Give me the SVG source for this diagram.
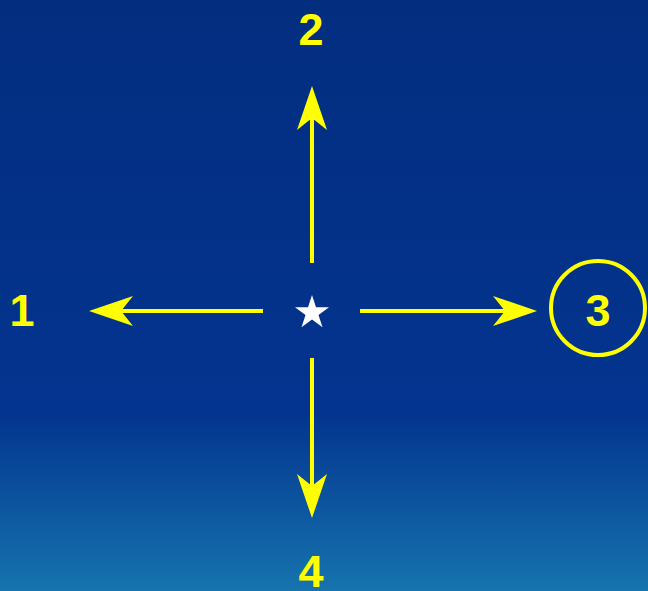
<svg xmlns="http://www.w3.org/2000/svg" width="648" height="591" viewBox="0 0 648 591">
<defs>
<linearGradient id="bg" x1="0" y1="0" x2="0" y2="1">
<stop offset="0" stop-color="#032e80"/>
<stop offset="0.7" stop-color="#03348f"/>
<stop offset="1" stop-color="#1674ae"/>
</linearGradient>
<marker id="ah" viewBox="0 0 44 32" refX="14" refY="16" markerWidth="44" markerHeight="32" markerUnits="userSpaceOnUse" orient="auto">
<path d="M0,1 L44,16 L0,31 L12,16 Z" fill="#ffff00"/>
</marker>
<style>
.c{stroke:#ffff00;stroke-width:4;fill:none}
.t{font-family:"Liberation Sans",Arial,sans-serif;font-weight:bold;font-size:45px;fill:#ffff00;text-anchor:middle}
</style>
</defs>
<rect width="648" height="591" fill="url(#bg)"/>
<g id="connectors">
<line class="c" x1="263" y1="311" x2="119" y2="311" marker-end="url(#ah)"/>
<line class="c" x1="360" y1="311" x2="507" y2="311" marker-end="url(#ah)"/>
<line class="c" x1="312" y1="263" x2="312" y2="116" marker-end="url(#ah)"/>
<line class="c" x1="312" y1="358" x2="312" y2="488" marker-end="url(#ah)"/>
</g>
<g id="center">
<polygon fill="#ffffff" points="312,295 316,307.3 329,307.3 318.5,314.9 322.5,327.2 312,319.6 301.5,327.2 305.5,314.9 295,307.3 308,307.3"/>
</g>
<g id="n1"><text class="t" x="22" y="326">1</text></g>
<g id="n2"><text class="t" x="311" y="45">2</text></g>
<g id="n3"><circle cx="598" cy="308" r="47" fill="none" stroke="#ffff00" stroke-width="4"/><text class="t" x="598" y="326">3</text></g>
<g id="n4"><text class="t" x="311" y="587">4</text></g>
</svg>
